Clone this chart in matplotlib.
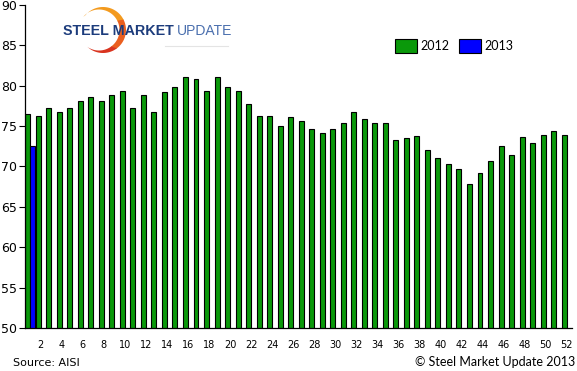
import numpy as np
import matplotlib
matplotlib.use("Agg")
import matplotlib.pyplot as plt
from matplotlib.patches import Polygon

# weekly capability utilization (%)
weeks = list(range(1, 53))
util_2012 = [76.5, 76.2, 77.3, 76.8, 77.2, 78.1, 78.6, 78.1, 78.8, 79.35,
             77.3, 78.8, 76.8, 79.2, 79.9, 81.05, 80.8, 79.4, 81.05, 79.9,
             79.4, 77.7, 76.3, 76.2, 75.0, 76.1, 75.6, 74.6, 74.2, 74.7,
             75.35, 76.8, 75.85, 75.35, 75.35, 73.25, 73.5, 73.75, 72.0, 71.1,
             70.3, 69.65, 67.8, 69.15, 70.65, 72.5, 71.4, 73.6, 72.9, 73.85,
             74.45, 73.85]
weeks_2013 = [1]
util_2013 = [72.6]
xtick_labels = [str(w) for w in range(2, 53, 2)]

green = '#0a990a'
blue = '#0000ff'

W, H = 577, 371
fig = plt.figure(figsize=(W / 100, H / 100), dpi=100)
ax = fig.add_axes([25 / W, (H - 328) / H, (572 - 25) / W, (328 - 5) / H])

x = np.array(weeks)
bw = 0.47
ax.bar(x - 0.245, util_2012, width=bw, color=green, edgecolor='black',
       linewidth=0.8, label='2012')
ax.bar(np.array(weeks_2013) + 0.245, util_2013, width=bw, color=blue,
       edgecolor='black', linewidth=0.8, label='2013')

ax.set_xlim(0.5, 52.5)
ax.set_ylim(50, 90)
ax.set_yticks(range(50, 91, 5))
ax.set_xticks(range(2, 53, 2))
ax.set_xticklabels(xtick_labels)
ax.tick_params(axis='y', direction='out', length=4, width=0.8, pad=2,
               labelsize=9)
ax.tick_params(axis='x', length=0, pad=9, labelsize=7)
for s in ['top', 'right']:
    ax.spines[s].set_visible(False)
for s in ['left', 'bottom']:
    ax.spines[s].set_linewidth(0.9)

leg = ax.legend(ncol=2, frameon=False, loc='upper left',
                bbox_to_anchor=(390 / W, (H - 34) / H),
                bbox_transform=fig.transFigure,
                prop={'family': 'Lato', 'size': 9},
                handlelength=1.75, handleheight=1.3, handletextpad=0.3,
                columnspacing=0.75, borderaxespad=0)

fig.text(13 / W, 3 / H, 'Source: AISI', fontsize=8, ha='left',
         va='bottom')
fig.text(575 / W, 3 / H, '\u00a9 Steel Market Update 2013', fontsize=9,
         family='Lato', ha='right', va='bottom')

# logo overlay in pixel coordinates
lg = fig.add_axes([0, 0, 1, 1], zorder=5)
lg.set_xlim(0, W)
lg.set_ylim(H, 0)
lg.axis('off')
lg.patch.set_alpha(0)

def crescent(a0, a1, n=40):
    t = np.radians(np.linspace(a0, a1, n))
    outer = np.c_[103 + 23 * np.cos(t), 30 - 23 * np.sin(t)]
    inner = np.c_[99 + 20.5 * np.cos(t[::-1]), 30 - 20.5 * np.sin(t[::-1])]
    return np.vstack([outer, inner])

lg.add_patch(Polygon(crescent(140, 25), closed=True, color='#f39a1e', lw=0))
lg.add_patch(Polygon(crescent(27, -55), closed=True, color='#ea5f1f', lw=0))
lg.add_patch(Polygon(crescent(-53, -125), closed=True, color='#d9341f', lw=0))

lg.text(63, 35, 'STEEL MARKET', fontsize=10.3, fontweight='heavy',
        family='Liberation Sans', color='#1c3c7c', va='baseline')
lg.text(177, 35, 'UPDATE', fontsize=10, family='Liberation Sans',
        color='#4a6fae', va='baseline')
lg.plot([165, 228], [46, 46], color='#e4e4e4', lw=0.8)

fig.savefig('out.png', dpi=100)
